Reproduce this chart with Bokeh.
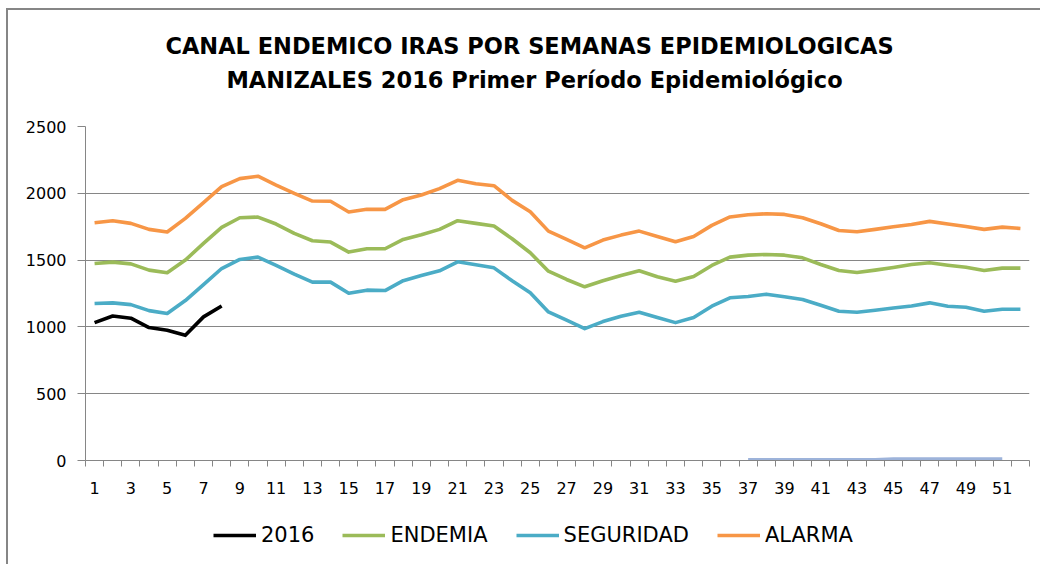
from bokeh.plotting import figure
from bokeh.models import Label, Legend, LegendItem, FixedTicker
from bokeh.layouts import column
from bokeh.embed import file_html
from bokeh.resources import INLINE

weeks = list(range(1, 53))
tick_labels = list(range(1, 52, 2))
weeks_2016 = list(range(1, 9))
serie_2016 = [1032, 1082, 1065, 995, 975, 937, 1075, 1157]
endemia = [1475, 1485, 1472, 1425, 1405, 1500, 1625, 1745, 1817, 1822,
           1770, 1700, 1645, 1635, 1560, 1585, 1585, 1655, 1690, 1730,
           1795, 1775, 1755, 1660, 1555, 1417, 1355, 1300, 1345, 1385,
           1420, 1375, 1342, 1377, 1460, 1522, 1537, 1542, 1537, 1517,
           1467, 1422, 1407, 1425, 1445, 1467, 1480, 1462, 1447, 1422,
           1440, 1440]
seguridad = [1175, 1180, 1167, 1122, 1100, 1197, 1317, 1437, 1505, 1522,
             1460, 1395, 1335, 1335, 1252, 1275, 1272, 1346, 1384, 1420,
             1487, 1465, 1442, 1345, 1255, 1112, 1050, 987, 1040, 1080,
             1110, 1070, 1032, 1070, 1155, 1218, 1227, 1245, 1225, 1205,
             1162, 1117, 1110, 1125, 1142, 1157, 1180, 1155, 1147, 1117,
             1132, 1132]
alarma = [1780, 1795, 1775, 1730, 1710, 1812, 1930, 2050, 2110, 2128,
          2062, 2000, 1942, 1940, 1860, 1880, 1880, 1952, 1987, 2035,
          2097, 2072, 2057, 1947, 1862, 1717, 1655, 1592, 1650, 1687,
          1717, 1677, 1637, 1677, 1760, 1823, 1840, 1847, 1842, 1817,
          1772, 1722, 1712, 1730, 1750, 1767, 1790, 1770, 1752, 1730,
          1747, 1737]
weeks_extra = list(range(37, 52))
serie_extra = [3, 3, 3, 3, 3, 3, 3, 3, 10, 10, 10, 10, 10, 10, 10]
title_lines = ["CANAL ENDEMICO IRAS POR SEMANAS EPIDEMIOLOGICAS",
               "MANIZALES 2016 Primer Período Epidemiológico"]
series_names = ["2016", "ENDEMIA", "SEGURIDAD", "ALARMA"]

FONT = "DejaVu Sans"
GRAY = "#868686"
COLORS = {"2016": "black", "ENDEMIA": "#9BBB59", "SEGURIDAD": "#4BACC6",
          "ALARMA": "#F79646"}
SERIES = {"2016": (weeks_2016, serie_2016), "ENDEMIA": (weeks, endemia),
          "SEGURIDAD": (weeks, seguridad), "ALARMA": (weeks, alarma)}
W = 1032


def blank(height):
    f = figure(width=W, height=height, x_range=(0, W), y_range=(0, height),
               x_axis_type=None, y_axis_type=None, output_backend="svg",
               toolbar_location=None, min_border=0, title=None)
    f.outline_line_color = None
    f.grid.visible = False
    return f


# --- title strip (frame aligned with the chart frame by the column) ---
p_top = blank(106)
p_top.add_layout(Label(x=444, y=70.5, x_units="screen", y_units="screen",
                       text=title_lines[0], text_align="center",
                       text_baseline="middle", text_font=FONT,
                       text_font_size="22.5px", text_font_style="bold",
                       text_color="black"))
p_top.add_layout(Label(x=449, y=36.5, x_units="screen", y_units="screen",
                       text=title_lines[1], text_align="center",
                       text_baseline="middle", text_font=FONT,
                       text_font_size="22.5px", text_font_style="bold",
                       text_color="black"))

# --- main chart ---
p = figure(width=W, height=394, x_range=(0.5, 52.5), y_range=(0, 2500),
           output_backend="svg", toolbar_location=None, title=None,
           min_border_left=77, min_border_right=11, min_border_top=10,
           min_border_bottom=50)
p.outline_line_color = None

p.line(weeks_extra, serie_extra, line_color="#9DB3DA", line_width=4)
for name in ["ALARMA", "ENDEMIA", "SEGURIDAD", "2016"]:
    xs, ys = SERIES[name]
    p.line(xs, ys, line_color=COLORS[name], line_width=3.6, line_join="round")

yt = [0, 500, 1000, 1500, 2000, 2500]
p.xgrid.visible = False
p.ygrid.grid_line_color = GRAY
p.ygrid.grid_line_width = 1
p.ygrid.ticker = FixedTicker(ticks=yt)

p.yaxis.ticker = FixedTicker(ticks=yt)
p.yaxis.axis_line_color = GRAY
p.yaxis.major_tick_line_color = GRAY
p.yaxis.major_tick_out = 8
p.yaxis.major_tick_in = 0
p.yaxis.minor_tick_line_color = None
p.yaxis.major_label_text_font = FONT
p.yaxis.major_label_text_font_size = "16px"
p.yaxis.major_label_text_color = "black"
p.yaxis.major_label_standoff = 11

half = [w - 0.5 for w in weeks] + [52.5]
p.xaxis.ticker = FixedTicker(ticks=tick_labels, minor_ticks=half)
p.xaxis.axis_line_color = GRAY
p.xaxis.major_tick_out = 0
p.xaxis.major_tick_in = 0
p.xaxis.minor_tick_line_color = GRAY
p.xaxis.minor_tick_out = 6
p.xaxis.minor_tick_in = 0
p.xaxis.major_label_text_font = FONT
p.xaxis.major_label_text_font_size = "16px"
p.xaxis.major_label_text_color = "black"
p.xaxis.major_label_standoff = 15

# --- legend strip (series drawn out of its visible range, only for the key) ---
p_leg = blank(54)
items = []
for name in series_names:
    xs, ys = SERIES[name]
    r = p_leg.line(xs, ys, line_color=COLORS[name], line_width=3.6)
    items.append(LegendItem(label=name, renderers=[r]))
legend = Legend(items=items, orientation="horizontal", location=(128, 17),
                glyph_width=43, glyph_height=20, label_standoff=5, spacing=28,
                padding=0, margin=0, border_line_alpha=0,
                background_fill_alpha=0, label_text_font=FONT,
                label_text_font_size="21px", label_text_color="black",
                label_height=20)
p_leg.add_layout(legend, "center")

lay = column(p_top, p, p_leg, spacing=0)
lay.styles = {"border-left": "2px solid #868686", "border-top": "2px solid #868686",
              "margin-left": "6px", "margin-top": "8px"}

open("out.html", "w").write(file_html(lay, INLINE))
